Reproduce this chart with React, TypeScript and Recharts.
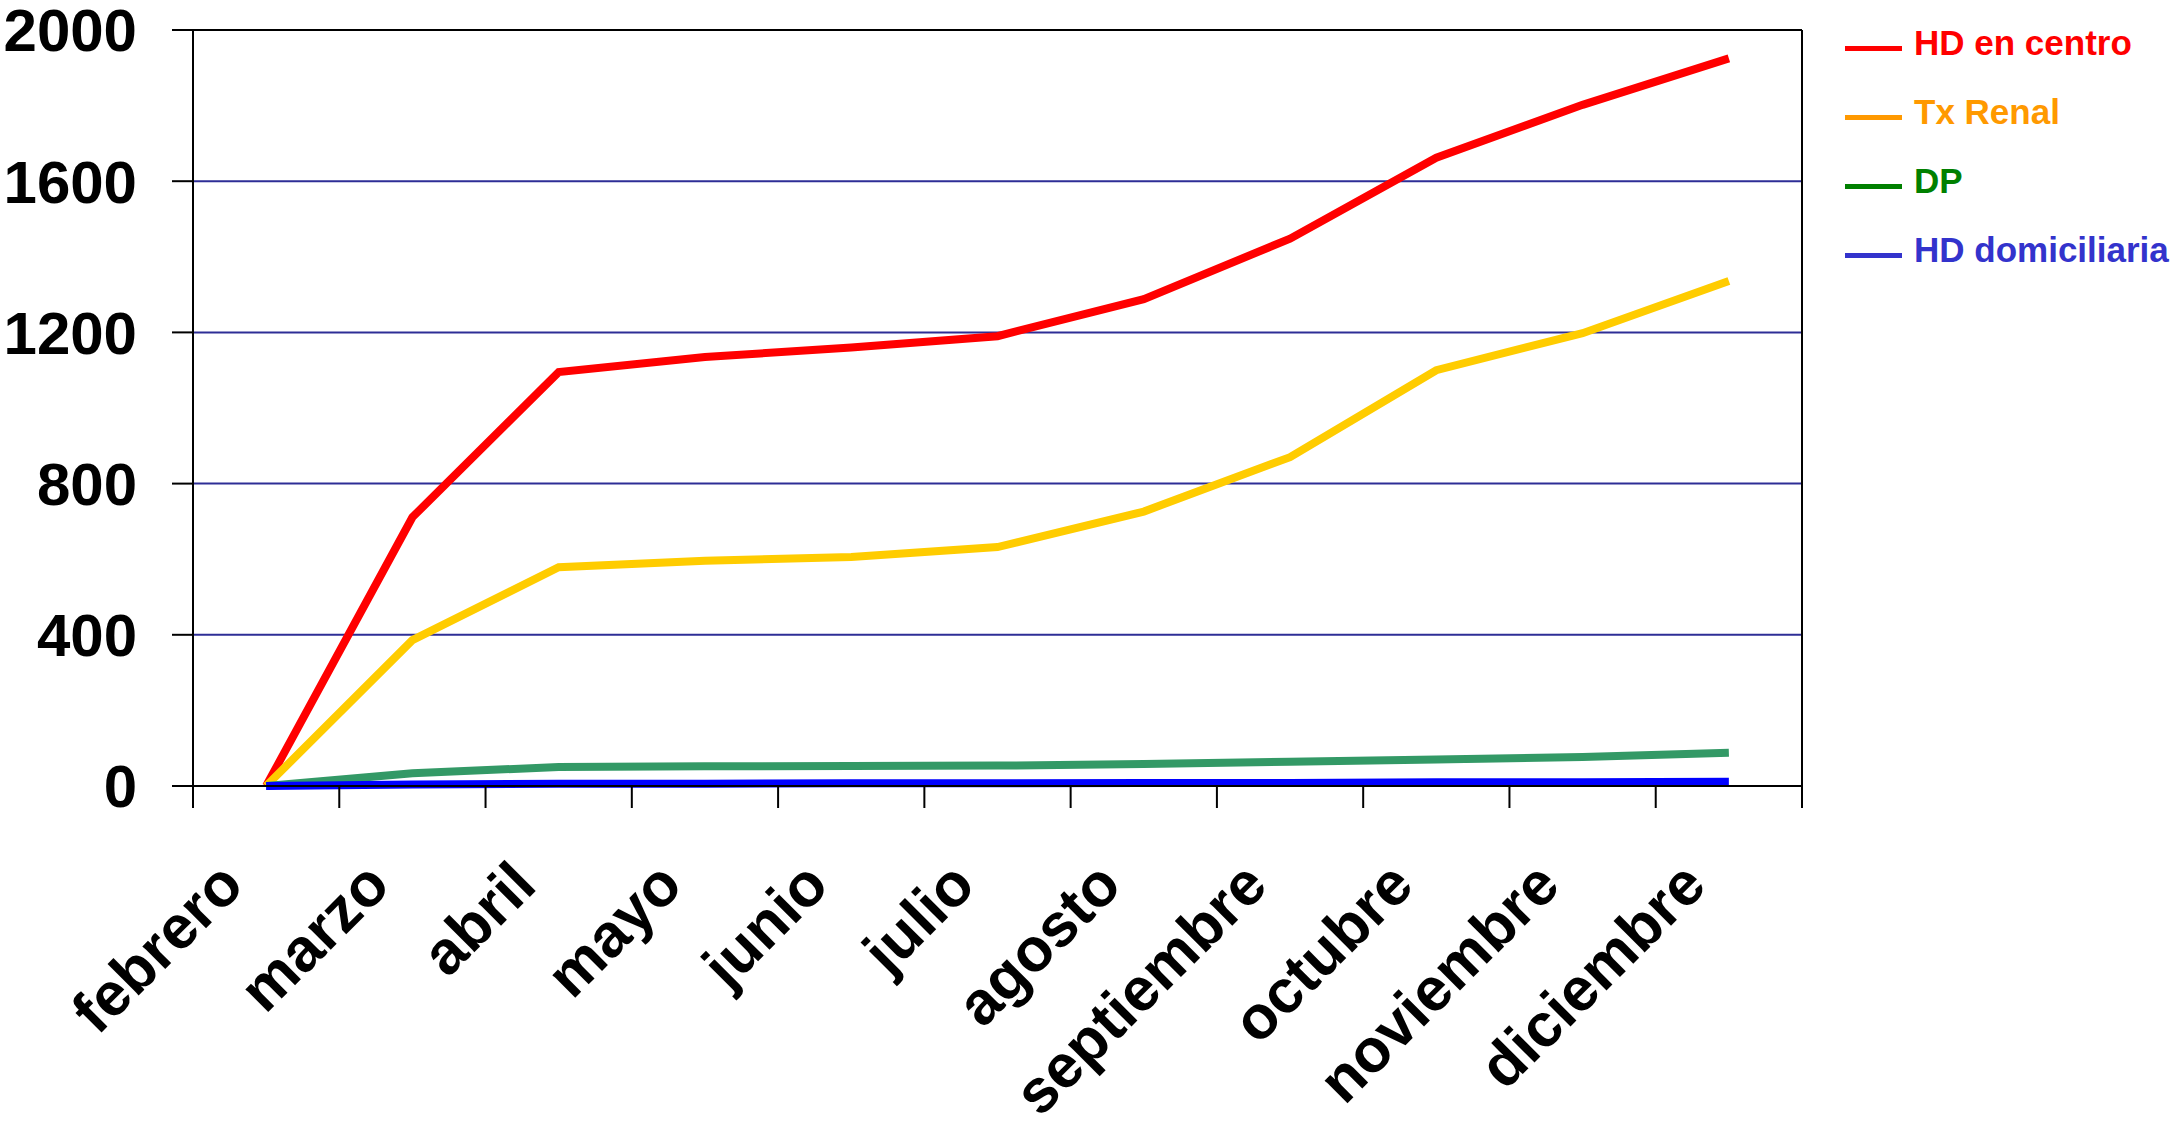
import React from "react";
import {
  LineChart,
  Line,
  XAxis,
  YAxis,
  CartesianGrid,
  ReferenceLine,
  Legend,
} from "recharts";

const MONTHS = [
  "febrero",
  "marzo",
  "abril",
  "mayo",
  "junio",
  "julio",
  "agosto",
  "septiembre",
  "octubre",
  "noviembre",
  "diciembre",
];
const HD_CENTRO = [0, 711, 1095, 1135, 1160, 1190, 1288, 1448, 1662, 1802, 1925];
const TX_RENAL = [0, 386, 579, 596, 606, 632, 726, 870, 1100, 1198, 1336];
const DP = [0, 34, 50, 52, 53, 54, 58, 64, 70, 77, 88];
const HD_DOM = [0, 4, 6, 6, 7, 7, 8, 8, 10, 10, 11];
const Y_TICKS = [0, 400, 800, 1200, 1600, 2000];

const SERIES = [
  { key: "hd", name: "HD en centro", stroke: "#FF0000", legend: "#FF0000" },
  { key: "tx", name: "Tx Renal", stroke: "#FFCC00", legend: "#FF9900" },
  { key: "dp", name: "DP", stroke: "#339966", legend: "#008000" },
  { key: "dom", name: "HD domiciliaria", stroke: "#0000FF", legend: "#3333CC" },
];

const W = 2175;
const H = 1131;
const LEFT = 193;
const RIGHT = 373;
const PLOT_W = W - LEFT - RIGHT;
const HALF = PLOT_W / MONTHS.length / 2;
const FONT = "'Liberation Sans', Arial, sans-serif";

const data = MONTHS.map((m, i) => ({
  x: i + 0.5,
  month: m,
  hd: HD_CENTRO[i],
  tx: TX_RENAL[i],
  dp: DP[i],
  dom: HD_DOM[i],
}));

// tick marks sit on category boundaries, labels in between
const BOUNDS = MONTHS.map((_, i) => i).concat(MONTHS.length);

function MonthTick(props: any) {
  const { x, y, payload } = props;
  const i = payload.value;
  if (i >= MONTHS.length) return <g />;
  const ax = x + HALF - 20;
  const ay = y + 80;
  return (
    <text
      x={ax}
      y={ay}
      transform={`rotate(-45, ${ax}, ${ay})`}
      textAnchor="end"
      fontSize={61}
      fontWeight="bold"
      fontFamily={FONT}
      fill="#000"
    >
      {MONTHS[i]}
    </text>
  );
}

function LegendBox() {
  return (
    <div style={{ fontFamily: FONT }}>
      {SERIES.map((s) => (
        <div key={s.key} style={{ height: 69, display: "flex", alignItems: "center" }}>
          <div
            style={{
              width: 57,
              height: 5,
              background: s.legend,
              marginTop: 12,
              marginRight: 12,
            }}
          />
          <span style={{ color: s.legend, fontSize: 35, fontWeight: "bold", whiteSpace: "nowrap" }}>
            {s.name}
          </span>
        </div>
      ))}
    </div>
  );
}

export default function App() {
  return (
    <div style={{ position: "absolute", left: 0, top: 0, width: W, height: H, background: "#fff" }}>
      <LineChart
        width={W}
        height={H}
        data={data}
        margin={{ top: 30, right: RIGHT, bottom: 0, left: 0 }}
      >
        <CartesianGrid vertical={false} stroke="#2E2E96" strokeWidth={2} />
        <XAxis
          type="number"
          dataKey="x"
          domain={[0, MONTHS.length]}
          ticks={BOUNDS}
          interval={0}
          height={345}
          tickSize={22}
          tickMargin={0}
          axisLine={{ stroke: "#000", strokeWidth: 2 }}
          tickLine={{ stroke: "#000", strokeWidth: 2 }}
          tick={<MonthTick />}
        />
        <YAxis
          width={LEFT}
          domain={[0, 2000]}
          ticks={Y_TICKS}
          interval={0}
          tickSize={21}
          tickMargin={35}
          axisLine={{ stroke: "#000", strokeWidth: 2 }}
          tickLine={{ stroke: "#000", strokeWidth: 2 }}
          tick={{ fill: "#000", fontSize: 60, fontWeight: "bold", fontFamily: FONT }}
        />
        <ReferenceLine y={2000} stroke="#000" strokeWidth={2} />
        <ReferenceLine x={MONTHS.length} stroke="#000" strokeWidth={2} />
        {SERIES.map((s) => (
          <Line
            key={s.key}
            type="linear"
            dataKey={s.key}
            name={s.name}
            stroke={s.stroke}
            strokeWidth={8}
            dot={false}
            activeDot={false}
            isAnimationActive={false}
          />
        ))}
        <Legend
          layout="horizontal"
          verticalAlign="middle"
          align="center"
          content={() => <LegendBox />}
          wrapperStyle={{ top: 8, left: 1845, width: 330, height: 280 }}
        />
      </LineChart>
    </div>
  );
}
